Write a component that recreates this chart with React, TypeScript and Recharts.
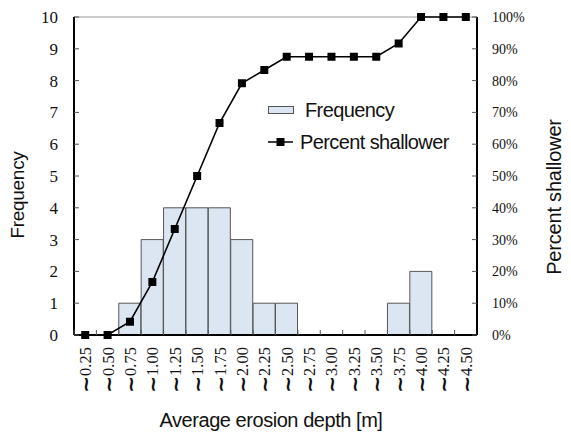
import React from "react";
import {
  ComposedChart,
  Bar,
  Line,
  XAxis,
  YAxis,
  ReferenceLine,
} from "recharts";

const categories = [
  "～0.25", "～0.50", "～0.75", "～1.00", "～1.25", "～1.50", "～1.75", "～2.00", "～2.25",
  "～2.50", "～2.75", "～3.00", "～3.25", "～3.50", "～3.75", "～4.00", "～4.25", "～4.50",
];
const frequency = [0, 0, 1, 3, 4, 4, 4, 3, 1, 1, 0, 0, 0, 0, 1, 2, 0, 0];
const percentShallower = [
  0, 0, 4.17, 16.67, 33.33, 50, 66.67, 79.17, 83.33, 87.5, 87.5, 87.5, 87.5, 87.5, 91.67, 100, 100, 100,
];
const freqTicks = [0, 1, 2, 3, 4, 5, 6, 7, 8, 9, 10];
const pctTicks = [0, 10, 20, 30, 40, 50, 60, 70, 80, 90, 100];

const data = categories.map((name, i) => ({
  name,
  freq: frequency[i],
  pct: percentShallower[i],
}));

const W = 571;
const H = 435;
const PLOT_LEFT = 74;
const PLOT_RIGHT = 477;
const BAND = (PLOT_RIGHT - PLOT_LEFT) / categories.length;
const SERIF = "'Liberation Serif', 'Times New Roman', serif";
const SANS = "'Liberation Sans', Arial, sans-serif";

function XTick(props: any) {
  const { x, y, payload } = props;
  const label = String(payload.value);
  return (
    <g>
      <line x1={x - BAND / 2} x2={x - BAND / 2} y1={y} y2={y - 5} stroke="#555" strokeWidth={1} />
      <text
        transform={`translate(${x},${y + 12}) rotate(-90)`}
        textAnchor="end"
        dominantBaseline="central"
        fontFamily={SERIF}
        fontSize={16.5}
        fill="#111"
      >
        <tspan fontSize={20} fontWeight="bold" fontFamily="'DejaVu Sans', sans-serif">~</tspan>
        <tspan>{label.slice(1)}</tspan>
      </text>
    </g>
  );
}

function SquareDot(props: any) {
  const { cx, cy } = props;
  if (cx == null || cy == null) return null;
  return <rect x={cx - 4} y={cy - 4} width={8} height={8} fill="#000" />;
}

function LegendBox() {
  return (
    <div
      style={{
        position: "absolute",
        left: 268,
        top: 94,
        fontFamily: SANS,
        fontSize: 20,
        letterSpacing: -0.6,
        color: "#111",
        lineHeight: "32px",
      }}
    >
      <div style={{ display: "flex", alignItems: "center" }}>
        <svg width={37} height={14}>
          <rect x={0.5} y={3.5} width={25} height={7} fill="#dce6f2" stroke="#555" />
        </svg>
        <span>Frequency</span>
      </div>
      <div style={{ display: "flex", alignItems: "center" }}>
        <svg width={32} height={14}>
          <line x1={0} x2={25} y1={7} y2={7} stroke="#000" strokeWidth={1.5} />
          <rect x={8.5} y={3} width={8} height={8} fill="#000" />
        </svg>
        <span>Percent shallower</span>
      </div>
    </div>
  );
}

export default function App() {
  return (
    <div style={{ position: "absolute", left: 0, top: 0, width: W, height: H, background: "#fff" }}>
      <ComposedChart
        width={W}
        height={H}
        data={data}
        margin={{ top: 17, left: PLOT_LEFT - 60, right: W - PLOT_RIGHT - 60, bottom: 30 }}
        barCategoryGap={0}
        barGap={0}
      >
        <XAxis
          dataKey="name"
          height={70}
          interval={0}
          tickSize={0}
          tickMargin={0}
          tickLine={false}
          axisLine={{ stroke: "#000", strokeWidth: 2 }}
          tick={<XTick />}
        />
        <YAxis
          yAxisId="left"
          orientation="left"
          width={60}
          domain={[0, 10]}
          ticks={freqTicks}
          interval={0}
          tickSize={-5}
          tickMargin={21}
          axisLine={{ stroke: "#000", strokeWidth: 2 }}
          tickLine={{ stroke: "#555" }}
          tick={{ fontFamily: SERIF, fontSize: 17, fill: "#111" }}
        />
        <YAxis
          yAxisId="right"
          orientation="right"
          width={60}
          domain={[0, 100]}
          ticks={pctTicks}
          interval={0}
          tickSize={-5}
          tickMargin={20}
          tickFormatter={(v: number) => `${v}%`}
          axisLine={{ stroke: "#000", strokeWidth: 2 }}
          tickLine={{ stroke: "#555" }}
          tick={{ fontFamily: SERIF, fontSize: 14, fill: "#111" }}
        />
        <ReferenceLine yAxisId="left" y={10} stroke="#999" strokeWidth={1} />
        <Bar
          yAxisId="left"
          dataKey="freq"
          name="Frequency"
          fill="#dce6f2"
          stroke="#555"
          strokeWidth={1}
          isAnimationActive={false}
        />
        <Line
          yAxisId="right"
          dataKey="pct"
          name="Percent shallower"
          type="linear"
          stroke="#000"
          strokeWidth={1.6}
          dot={<SquareDot />}
          activeDot={false}
          isAnimationActive={false}
        />
      </ComposedChart>
      <LegendBox />
      <div
        style={{
          position: "absolute",
          left: 18,
          top: 195,
          transform: "translate(-50%, -50%) rotate(-90deg)",
          fontFamily: SANS,
          fontSize: 19,
          letterSpacing: -0.3,
          whiteSpace: "nowrap",
          color: "#111",
        }}
      >
        Frequency
      </div>
      <div
        style={{
          position: "absolute",
          left: 554,
          top: 197,
          transform: "translate(-50%, -50%) rotate(-90deg)",
          fontFamily: SANS,
          fontSize: 20,
          letterSpacing: -0.2,
          whiteSpace: "nowrap",
          color: "#111",
        }}
      >
        Percent shallower
      </div>
      <div
        style={{
          position: "absolute",
          left: 271,
          top: 420,
          transform: "translate(-50%, -50%)",
          fontFamily: SANS,
          fontSize: 20,
          letterSpacing: -0.45,
          whiteSpace: "nowrap",
          color: "#111",
        }}
      >
        Average erosion depth [m]
      </div>
    </div>
  );
}
